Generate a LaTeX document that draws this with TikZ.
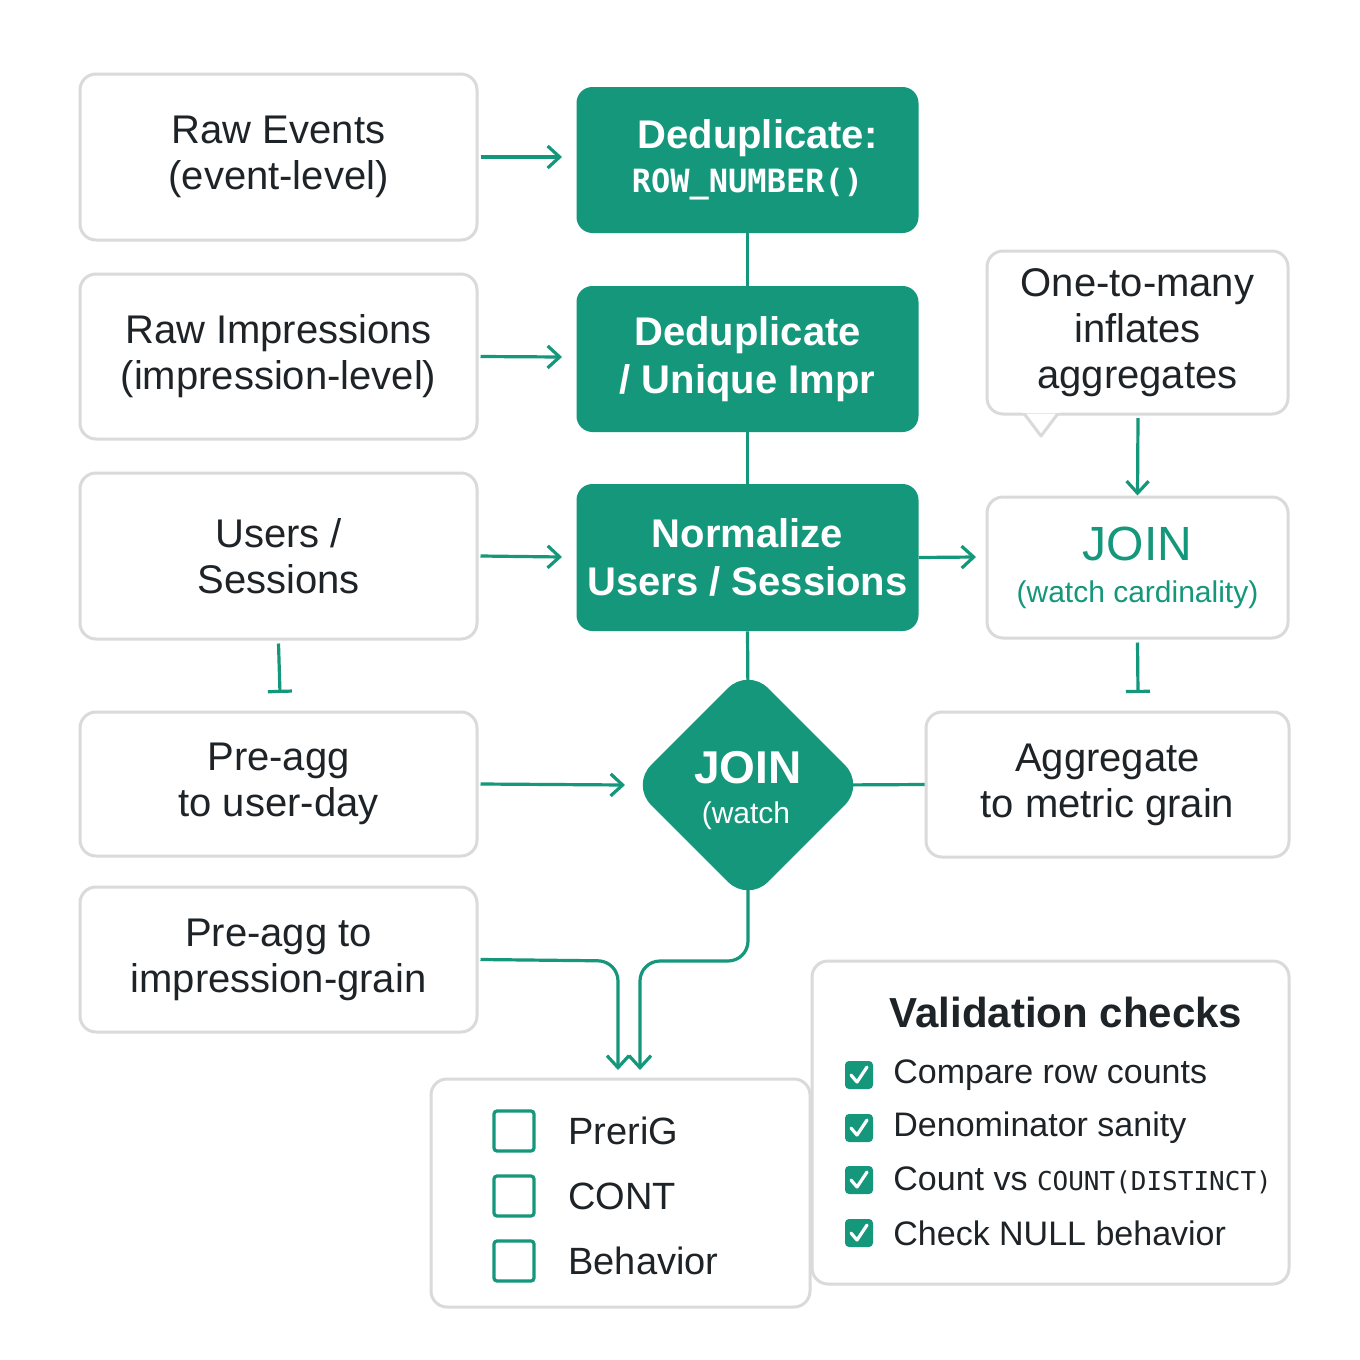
\documentclass[tikz,border=0pt]{standalone}
\usepackage{fontspec}
\setmainfont{Liberation Sans}
\newfontfamily\monof{DejaVu Sans Mono}
\usetikzlibrary{shapes.geometric,arrows.meta,shapes.callouts}
\definecolor{gr}{HTML}{14977A}
\definecolor{bd}{HTML}{DADADA}
\definecolor{tx}{HTML}{1E2328}
\begin{document}
\begin{tikzpicture}[x=0.5pt,y=-0.5pt,
  wbox/.style={draw=bd,line width=1.5pt,rounded corners=8pt,fill=white,text=tx,align=center,font=\fontsize{20}{23}\selectfont,inner sep=0pt},
  gbox/.style={fill=gr,rounded corners=8pt,text=white,align=center,font=\bfseries\fontsize{20}{24}\selectfont,inner sep=0pt},
  con/.style={draw=gr,line width=1.6pt},
  arr/.style={con,-{Straight Barb[length=6pt,width=11pt,line width=1.6pt]}},
  tee/.style={con,-{Bar[width=12pt,line width=1.6pt]}},
  chk/.style={fill=gr,rounded corners=2pt,minimum size=14pt,inner sep=0pt},
  emp/.style={draw=gr,line width=1.6pt,rounded corners=1.5pt,minimum size=20pt,inner sep=0pt},
  lt/.style={anchor=west,text=tx,font=\fontsize{17}{20}\selectfont,inner sep=0pt},
  lt2/.style={anchor=west,text=tx,font=\fontsize{19}{22}\selectfont,inner sep=0pt}]
\useasboundingbox (0,0) rectangle (1360,1360);
\fill[white] (0,0) rectangle (1360,1360);
% left boxes
\node[wbox,minimum width=198.5pt,minimum height=83pt] (re) at (278.5,157) {Raw Events\\(event-level)};
\node[wbox,minimum width=198.5pt,minimum height=82.5pt] (ri) at (278.5,356.5) {Raw Impressions\\(impression-level)};
\node[wbox,minimum width=198.5pt,minimum height=83pt] (us) at (278.5,556) {Users /\\Sessions};
\node[wbox,minimum width=198.5pt,minimum height=72pt] (pu) at (278.5,784) {Pre-agg\\to user-day};
\node[wbox,minimum width=198.5pt,minimum height=72.5pt] (pi) at (278.5,959.5) {Pre-agg to\\impression-grain};
% green boxes
\node[gbox,minimum width=171pt,minimum height=73pt] (d1) at (747.5,160) {\hspace*{10pt}Deduplicate:\\[-2pt]{\monof\bfseries\fontsize{16}{20}\selectfont ROW\_NUMBER()}};
\node[gbox,minimum width=171pt,minimum height=73pt] (d2) at (747.5,359) {Deduplicate\\/ Unique Impr};
\node[gbox,minimum width=171pt,minimum height=73.5pt] (nm) at (747.5,557.5) {Normalize\\Users / Sessions};
% right
\node[wbox,minimum width=150.5pt,minimum height=81.5pt] (co) at (1137.5,332.5) {One-to-many\\inflates\\aggregates};
\fill[white,draw=bd,line width=1.5pt,line join=round] (1024,413.5) -- (1041,436) -- (1058,413.5);
\fill[white] (1022,410) rectangle (1060,413);
\node[wbox,minimum width=150.5pt,minimum height=70.5pt,text=gr] (jb) at (1137.5,567.5) {\fontsize{24}{26}\selectfont JOIN\\[-2pt]{\fontsize{15}{18}\selectfont (watch cardinality)}};
\node[wbox,minimum width=181.5pt,minimum height=72.5pt] (ag) at (1107.5,784.5) {Aggregate\\to metric grain};
% diamond
\node[diamond,fill=gr,rounded corners=14pt,minimum width=117pt,minimum height=117pt,inner sep=0pt,text=white,align=center] (dj) at (748,785) {};
\node[text=white,font=\bfseries\fontsize{23}{25}\selectfont] at (748,768) {JOIN};
\node[text=white,font=\fontsize{15}{17}\selectfont] at (746,816) {(watch};
% connectors
\draw[arr] (re.east)++(2,0) -- (562,157);
\draw[arr] (ri.east)++(2,0) -- (562,357);
\draw[arr] (us.east)++(2,0) -- (562,557);
\draw[con] (d1.south) -- (d2.north);
\draw[con] (d2.south) -- (nm.north);
\draw[con] (nm.south) -- ([yshift=-16pt]dj.north);
\draw[arr] (nm.east) -- (976,557);
\coordinate (cb) at (1138,418);
\draw[arr] (cb) -- (jb.north);
\draw[tee] (jb.south)++(0,3) -- (1138,693);
\draw[tee] (us.south)++(0,3) -- (280,693);
\draw[arr] (pu.east)++(2,0) -- (625,785);
\draw[con] ([xshift=-16pt]dj.east) -- (ag.west);
\coordinate (b1) at (640,1070);
\coordinate (b2) at (618,1070);
\draw[arr,rounded corners=10pt] ([yshift=16pt]dj.south) -- (748,961) -- (640,961) -- (b1);
\draw[arr,rounded corners=10pt] (pi.east)++(2,0) -- (618,961) -- (b2);
% validation
\node[wbox,minimum width=238.5pt,minimum height=161.5pt] (va) at (1050.5,1122.5) {};
\node[text=tx,font=\fontsize{21}{24}\selectfont\bfseries] at (1066,1012) {Validation checks};
\foreach \y/\t [count=\i] in {1075/Compare row counts,1128/Denominator sanity,1180/{Count vs {\monof\fontsize{13}{16}\selectfont COUNT(DISTINCT)}},1233/Check NULL behavior}{
  \node[chk] (c\i) at (859,\y) {};
  \draw[white,line width=1.6pt,line cap=round,line join=round] (851,\y) -- (857,\y+7) -- (867,\y-8);
  \node[lt] at (893,\y) {\t};
}
% checklist box
\node[wbox,minimum width=189.5pt,minimum height=114pt] (cl) at (620.5,1193) {};
\foreach \y/\t [count=\i] in {1131/PreriG,1196/CONT,1261/Behavior}{
  \node[emp] (e\i) at (514,\y) {};
  \node[lt2] at (568,\y) {\t};
}
\end{tikzpicture}
\end{document}
